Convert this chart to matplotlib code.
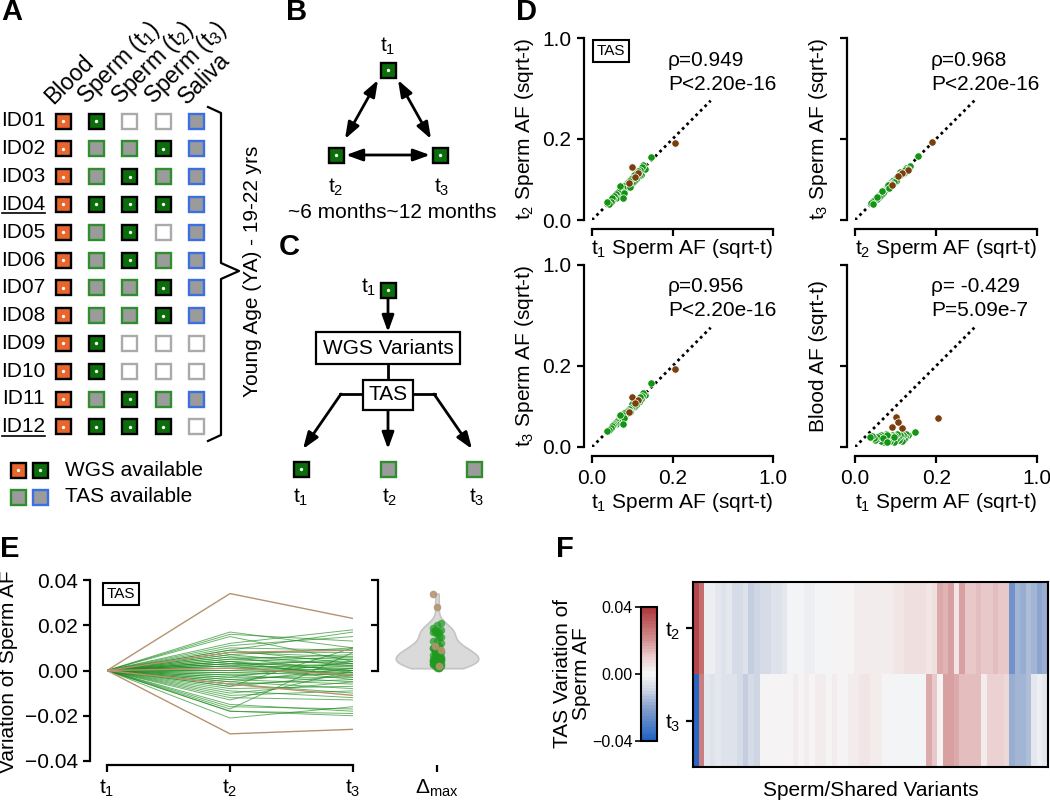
import numpy as np
import matplotlib
matplotlib.use('Agg')
import matplotlib.pyplot as plt
from matplotlib.patches import Rectangle
from matplotlib.colors import LinearSegmentedColormap

plt.rcParams['font.family'] = 'Liberation Sans'
plt.rcParams['mathtext.fontset'] = 'custom'
plt.rcParams['mathtext.rm'] = 'Liberation Sans'
plt.rcParams['mathtext.it'] = 'Liberation Sans:italic'
plt.rcParams['mathtext.bf'] = 'Liberation Sans:bold'

W, H = 1050, 801
FS = 15

# ---------------- A: sample availability ----------------
sample_ids = ['ID01', 'ID02', 'ID03', 'ID04', 'ID05', 'ID06',
              'ID07', 'ID08', 'ID09', 'ID10', 'ID11', 'ID12']
underlined_ids = ['ID04', 'ID12']
tissues = ['Blood', 'Sperm (t$_1$)', 'Sperm (t$_2$)', 'Sperm (t$_3$)', 'Saliva']
# W = WGS, T = TAS, N = not available (columns follow tissues)
availability = ['WWNNT', 'WTTWT', 'WTWTT', 'WWWWT', 'WTWNT', 'WTWTT',
                'WTTWT', 'WTTWT', 'WWNNN', 'WWNNN', 'WTWTT', 'WWWWN']

# ---------------- D: allele frequencies ----------------
green_t1 = [.108, .085, .080, .075, .072, .070, .068, .065, .062, .060, .058, .055,
            .053, .050, .048, .046, .044, .042, .040, .038, .036, .035, .033, .032,
            .030, .029, .027, .026, .025, .023, .022, .021, .020, .018, .017, .015,
            .014, .012, .011, .031, .045, .024, .030, .009, .007]
green_t2 = [.118, .078, .090, .085, .062, .076, .058, .072, .055, .066, .050, .060,
            .047, .054, .042, .050, .038, .046, .036, .042, .032, .038, .029, .035,
            .027, .031, .024, .028, .022, .026, .019, .023, .018, .020, .015, .017,
            .013, .014, .010, .022, .032, .034, .014, .008, .010]
green_t3 = [.124, .082, .088, .080, .070, .074, .060, .068, .058, .064, .052, .062,
            .049, .056, .045, .047, .041, .044, .039, .040, .034, .036, .031, .034,
            .029, .030, .026, .027, .024, .025, .021, .022, .019, .019, .016, .016,
            .014, .013, .011, .025, .036, .030, .016, .009, .008]
green_blood = [.0070, .0040, .0050, .0030, .0020, .0045, .0010, .0035, .0025, .0040,
               .0015, .0030, .0050, .0020, .0035, .0008, .0030, .0045, .0020, .0035,
               .0010, .0025, .0040, .0015, .0030, .0050, .0022, .0008, .0035, .0018,
               .0030, .0045, .0012, .0028, .0038, .0020, .0032, .0015, .0026, .0040,
               .0030, .0025, .0009, .0034, .0028]
brown_t1 = [.210, .050, .066, .042, .056]
brown_t2 = [.179, .086, .068, .041, .055]
brown_t3 = [.182, .075, .066, .037, .058]
brown_blood = [.025, .027, .011, .012, .019]

d_stats = [('ρ=0.949', 'P<2.20e-16'), ('ρ=0.968', 'P<2.20e-16'),
           ('ρ=0.956', 'P<2.20e-16'), ('ρ= -0.429', 'P=5.09e-7')]

# ---------------- E: variation of sperm AF (relative to t1) ----------------
var_t2 = [0.017, 0.016, 0.015, 0.012, 0.011, 0.010, 0.009, 0.008, 0.008, 0.007,
          0.007, 0.006, 0.006, 0.005, 0.005, 0.004, 0.004, 0.004, 0.003, 0.003,
          0.003, 0.002, 0.002, 0.002, 0.001, 0.001, 0.000, 0.000, -0.001, -0.001,
          -0.002, -0.002, -0.003, -0.003, -0.004, -0.004, -0.005, -0.005, -0.006, -0.006,
          -0.007, -0.008, -0.009, -0.010, -0.011, -0.012, -0.013, -0.015, -0.016, -0.017,
          -0.018, -0.018, -0.021, 0.009, -0.007]
var_t3 = [0.010, 0.013, 0.004, 0.018, 0.015, 0.009, 0.017, 0.006, 0.008, 0.002,
          0.010, 0.005, -0.001, 0.007, 0.003, 0.000, 0.006, -0.003, 0.002, 0.004,
          -0.002, 0.001, 0.005, -0.004, 0.000, 0.003, -0.001, 0.002, -0.002, 0.001,
          -0.005, 0.000, -0.003, 0.004, -0.006, -0.001, -0.008, 0.001, -0.004, -0.010,
          -0.002, -0.007, -0.012, -0.005, -0.009, -0.013, 0.000, -0.018, -0.017, 0.008,
          -0.019, -0.020, -0.016, 0.003, 0.010]
brown_var_t2 = [0.034, -0.028, 0.008, -0.006, 0.001]
brown_var_t3 = [0.023, -0.026, 0.009, -0.011, -0.002]

# ---------------- F: heatmap of variation ----------------
heat_t2 = [0.036, 0.028, -0.002, -0.003, -0.004, -0.006, -0.005, -0.008, -0.007, -0.006,
           -0.011, -0.010, -0.007, -0.007, -0.006, -0.006, -0.005, -0.001, -0.001, -0.001,
           -0.002, -0.002, -0.001, -0.001, -0.001, 0.000, 0.000, 0.001, 0.001, 0.002,
           0.003, 0.002, 0.003, 0.002, 0.003, 0.003, 0.004, 0.004, 0.005, 0.006,
           0.005, 0.006, 0.004, 0.005, 0.015, 0.014, 0.017, 0.004, 0.018, 0.011,
           0.011, 0.012, 0.011, 0.011, 0.012, 0.011, 0.011, -0.024, -0.016, -0.018,
           -0.014, -0.016, -0.020, -0.018]
heat_t3 = [-0.038, 0.024, -0.005, -0.006, -0.005, -0.006, -0.006, -0.006, -0.007, -0.011,
           -0.008, -0.010, 0.000, 0.001, 0.001, 0.001, 0.001, 0.001, 0.002, 0.001,
           0.002, 0.001, 0.002, 0.002, 0.001, 0.002, 0.001, 0.001, 0.002, 0.003,
           0.004, 0.004, 0.003, 0.003, 0.001, -0.001, -0.001, -0.001, -0.001, -0.001,
           -0.001, -0.001, 0.016, 0.011, 0.001, 0.018, 0.017, 0.016, 0.012, 0.012,
           0.012, 0.013, 0.003, 0.009, 0.009, 0.009, 0.008, -0.018, -0.016, -0.016,
           -0.015, -0.004, -0.003, -0.004]

GREEN_PT = '#139413'
BROWN_PT = '#7b3f0c'
LINE_GREEN = '#1e8c1e'
LINE_BROWN = '#b5936f'

fig = plt.figure(figsize=(10.5, 8.01), dpi=100)


def px_axes(x0, y0, x1, y1):
    ax = fig.add_axes([x0 / W, 1 - y1 / H, (x1 - x0) / W, (y1 - y0) / H])
    ax.set_facecolor('none')
    return ax


canvas = px_axes(0, 0, W, H)
canvas.set_xlim(0, W)
canvas.set_ylim(H, 0)
canvas.axis('off')

BOX_STYLE = {
    'blood_wgs': ('#e8652b', 'black', True),
    'sperm_wgs': ('#0b6e0b', 'black', True),
    'sperm_tas': ('#9b9b9b', '#2f8f2f', False),
    'saliva_tas': ('#9b9b9b', '#3b6fe6', False),
    'none': ('white', '#aaaaaa', False),
}


def box(cx, cy, kind, size=15):
    fc, ec, dot = BOX_STYLE[kind]
    canvas.add_patch(Rectangle((cx - size / 2, cy - size / 2), size, size,
                               facecolor=fc, edgecolor=ec, lw=1.7, zorder=3))
    if dot:
        canvas.plot(cx, cy, 'o', color='white', ms=2.4, mew=0, zorder=4)


def kind_of(col, code):
    if code == 'N':
        return 'none'
    if col == 0:
        return 'blood_wgs'
    if col == 4:
        return 'saliva_tas'
    return 'sperm_wgs' if code == 'W' else 'sperm_tas'


def arrow(p0, p1, both=False, lw=2):
    style = '<|-|>' if both else '-|>'
    canvas.annotate('', xy=p1, xytext=p0,
                    arrowprops=dict(arrowstyle=style + ',head_length=0.55,head_width=0.2',
                                    lw=lw, color='black', shrinkA=0, shrinkB=0,
                                    mutation_scale=18))


def letter(x, y, s):
    canvas.text(x, y, s, fontsize=21, fontweight='bold', ha='center', va='center')


# ---------- panel A ----------
letter(12, 12, 'A')
row_y0, row_dy = 121, 27.8
col_x0, col_dx = 63, 33.4
for j, t in enumerate(tissues):
    canvas.text(col_x0 + j * col_dx - 10, 105, t, rotation=45, rotation_mode='anchor',
                ha='left', va='baseline', fontsize=16.5)
for i, (sid, codes) in enumerate(zip(sample_ids, availability)):
    y = row_y0 + i * row_dy
    canvas.text(45, y, sid, ha='right', va='center', fontsize=FS)
    if sid in underlined_ids:
        canvas.plot([2, 45], [y + 9, y + 9], color='black', lw=1.2)
    for j, c in enumerate(codes):
        box(col_x0 + j * col_dx, y, kind_of(j, c))

canvas.plot([208, 221, 221, 239, 221, 221, 208],
            [107, 113, 263, 271, 279, 435, 441], color='black', lw=1.6)
canvas.text(252, 271, 'Young Age (YA) - 19-22 yrs', rotation=90, ha='center',
            va='center', fontsize=FS)

box(18, 470, 'blood_wgs')
box(40, 470, 'sperm_wgs')
box(18, 497, 'sperm_tas')
box(40, 497, 'saliva_tas')
canvas.text(65, 470, 'WGS available', va='center', fontsize=FS)
canvas.text(65, 497, 'TAS available', va='center', fontsize=FS)

# ---------- panel B ----------
letter(297, 12, 'B')
for x, y in [(388, 70), (336, 155), (440, 155)]:
    box(x, y, 'sperm_wgs')
canvas.text(388, 46, 't$_1$', ha='center', va='center', fontsize=FS)
canvas.text(336, 187, 't$_2$', ha='center', va='center', fontsize=FS)
canvas.text(442, 187, 't$_3$', ha='center', va='center', fontsize=FS)
arrow((378, 80), (345, 139), both=True)
arrow((398, 80), (431, 139), both=True)
arrow((346, 155), (430, 155), both=True)
canvas.text(392, 213, '~6 months~12 months', ha='center', va='center', fontsize=FS)

# ---------- panel C ----------
letter(289, 247, 'C')
box(388, 290, 'sperm_wgs')
canvas.text(376, 287, 't$_1$', ha='right', va='center', fontsize=FS)
arrow((388, 299), (388, 332))
canvas.text(388, 348, 'WGS Variants', ha='center', va='center', fontsize=FS,
            bbox=dict(boxstyle='square,pad=0.3', facecolor='white', edgecolor='black', lw=1.6))
canvas.plot([388, 388], [364, 382], color='black', lw=2)
canvas.text(388, 395, 'TAS', ha='center', va='center', fontsize=FS,
            bbox=dict(boxstyle='square,pad=0.25', facecolor='white', edgecolor='black', lw=1.6),
            zorder=5)
canvas.plot([365, 340], [394, 394], color='black', lw=2)
canvas.plot([411, 435], [394, 394], color='black', lw=2)
arrow((341, 394), (303, 449))
arrow((434, 394), (472, 449))
arrow((388, 409), (388, 449))
box(301, 469, 'sperm_wgs')
box(388, 469, 'sperm_tas')
box(474, 469, 'sperm_tas')
for x, lab in [(301, 't$_1$'), (390, 't$_2$'), (477, 't$_3$')]:
    canvas.text(x, 497, lab, ha='center', va='center', fontsize=FS)

# ---------- panel D ----------
letter(527, 12, 'D')


def fwd(v):
    return np.sqrt(np.clip(v, 0, None))


def inv(v):
    return np.square(v)


d_specs = [
    # rect px, x data, y data, xlabel, ylabel, show x labels, show y labels
    ((592, 38, 773, 220), 't1', 't2', 't$_1$ Sperm AF (sqrt-t)', 't$_2$ Sperm AF (sqrt-t)', False, True),
    ((855, 38, 1037, 220), 't2', 't3', 't$_2$ Sperm AF (sqrt-t)', 't$_3$ Sperm AF (sqrt-t)', False, False),
    ((592, 265, 773, 447), 't1', 't3', 't$_1$ Sperm AF (sqrt-t)', 't$_3$ Sperm AF (sqrt-t)', True, True),
    ((855, 265, 1037, 447), 't1', 'blood', 't$_1$ Sperm AF (sqrt-t)', 'Blood AF (sqrt-t)', True, False),
]
green = {'t1': green_t1, 't2': green_t2, 't3': green_t3, 'blood': green_blood}
brown = {'t1': brown_t1, 't2': brown_t2, 't3': brown_t3, 'blood': brown_blood}

for k, (rect, xk, yk, xl, yl, showx, showy) in enumerate(d_specs):
    ax = px_axes(*rect)
    ax.set_xscale('function', functions=(fwd, inv))
    ax.set_yscale('function', functions=(fwd, inv))
    ax.set_xlim(0, 1)
    ax.set_ylim(0, 1)
    ax.plot([0, 0.43], [0, 0.43], color='black', lw=2, ls=(0, (1, 1.3)), zorder=1)
    ax.scatter(green[xk], green[yk], s=28, color=GREEN_PT, edgecolors='white',
               linewidths=0.5, zorder=3)
    ax.scatter(brown[xk], brown[yk], s=28, color=BROWN_PT, edgecolors='white',
               linewidths=0.5, zorder=4)
    for side in ['top', 'right']:
        ax.spines[side].set_visible(False)
    ax.spines['left'].set_position(('outward', 6))
    ax.spines['bottom'].set_position(('outward', 6.5))
    for side in ['left', 'bottom']:
        ax.spines[side].set_linewidth(1.6)
    ax.set_xticks([0, 0.2, 1.0])
    ax.set_yticks([0, 0.2, 1.0])
    ax.set_xticklabels(['0.0', '0.2', '1.0'] if showx else [])
    ax.set_yticklabels(['0.0', '0.2', '1.0'] if showy else [])
    ax.xaxis.set_minor_locator(matplotlib.ticker.NullLocator())
    ax.yaxis.set_minor_locator(matplotlib.ticker.NullLocator())
    ax.tick_params(width=1.6, length=5, labelsize=FS, pad=4)
    x0, y0, x1, y1 = rect
    xlab_y = y1 + (55 if showx else 28)
    canvas.text((x0 + x1) / 2, xlab_y, xl, ha='center', va='center', fontsize=FS)
    ylab_x = x0 - (67 if showy else 37)
    canvas.text(ylab_x, (y0 + y1) / 2, yl, rotation=90, ha='center', va='center', fontsize=FS)
    r, p = d_stats[k]
    canvas.text(x0 + 76, y0 + 22, r, ha='left', va='center', fontsize=FS)
    canvas.text(x0 + 76, y0 + 46, p, ha='left', va='center', fontsize=FS)
    if k == 0:
        canvas.text(611, 51, 'TAS', ha='center', va='center', fontsize=11,
                    bbox=dict(boxstyle='square,pad=0.25', facecolor='white',
                              edgecolor='black', lw=1.5))

# ---------- panel E ----------
letter(10, 549, 'E')
axE = px_axes(107, 580, 353, 761)
for a, b in zip(var_t2, var_t3):
    axE.plot([0, 1, 2], [0, a, b], color=LINE_GREEN, lw=0.7, alpha=0.65)
for a, b in zip(brown_var_t2, brown_var_t3):
    axE.plot([0, 1, 2], [0, a, b], color=LINE_BROWN, lw=1.0)
axE.set_xlim(0, 2)
axE.set_ylim(-0.04, 0.04)
for side in ['top', 'right']:
    axE.spines[side].set_visible(False)
axE.spines['left'].set_position(('outward', 12))
axE.spines['bottom'].set_position(('outward', 3))
for side in ['left', 'bottom']:
    axE.spines[side].set_linewidth(1.6)
axE.set_xticks([0, 1, 2])
axE.set_xticklabels(['t$_1$', 't$_2$', 't$_3$'])
axE.set_yticks([-0.04, -0.02, 0, 0.02, 0.04])
axE.set_yticklabels(['\u22120.04', '\u22120.02', '0.00', '0.02', '0.04'])
axE.tick_params(width=1.6, length=5, labelsize=FS, pad=4)
canvas.text(121, 594, 'TAS', ha='center', va='center', fontsize=11,
            bbox=dict(boxstyle='square,pad=0.25', facecolor='white', edgecolor='black', lw=1.5))
canvas.text(9, 672, 'Variation of Sperm AF', rotation=90, ha='center', va='center', fontsize=FS)

# violin of max variation
dmax_green = np.maximum(np.abs(var_t2), np.abs(var_t3))
dmax_brown = np.maximum(np.abs(brown_var_t2), np.abs(brown_var_t3))
dmax_all = np.concatenate([dmax_green, dmax_brown])
axV = px_axes(378, 580, 496, 761)
parts = axV.violinplot(dmax_all, positions=[0], widths=1.4, showextrema=False)
for body in parts['bodies']:
    body.set_facecolor('#dadada')
    body.set_edgecolor('#c4c4c4')
    body.set_alpha(1)
    body.set_linewidth(1.2)
jit = [-0.06, 0.0, 0.06, -0.03, 0.03]
axV.scatter([jit[i % 5] for i in range(len(dmax_green))], dmax_green, s=30,
            color='#1f9a1f', alpha=0.7, linewidths=0, zorder=3)
axV.scatter([jit[i % 5] for i in range(len(dmax_brown))], dmax_brown, s=30,
            color=LINE_BROWN, alpha=0.9, linewidths=0, zorder=4)
axV.set_xlim(-1, 1)
axV.set_ylim(-0.04, 0.04)
for side in ['top', 'right', 'bottom']:
    axV.spines[side].set_visible(False)
axV.spines['bottom'].set_position(('outward', 3))
axV.spines['left'].set_bounds(0, 0.04)
axV.spines['left'].set_linewidth(1.6)
axV.set_yticks([0, 0.02, 0.04])
axV.set_yticklabels([])
axV.set_xticks([0])
axV.set_xticklabels([r'$\Delta_{\mathrm{max}}$'])
axV.tick_params(width=1.6, length=5, labelsize=FS, pad=4)

# ---------- panel F ----------
letter(565, 549, 'F')
cmap = LinearSegmentedColormap.from_list(
    'var', [(0.0, '#2062c2'), (0.25, '#8aa3cc'), (0.375, '#ccd4e3'), (0.5, '#f7f7f7'),
            (0.625, '#ebcfcf'), (0.75, '#d49494'), (1.0, '#ae383c')], N=48)
axF = px_axes(693, 582, 1048, 767)
im = axF.imshow(np.array([heat_t2, heat_t3]), aspect='auto', cmap=cmap,
                vmin=-0.04, vmax=0.04, interpolation='nearest')
axF.set_xticks([])
axF.set_yticks([0, 1])
axF.set_yticklabels(['t$_2$', 't$_3$'])
axF.tick_params(width=1.6, length=5, labelsize=FS, pad=4)
for s in axF.spines.values():
    s.set_linewidth(1.5)
canvas.text(871, 790, 'Sperm/Shared Variants', ha='center', va='center', fontsize=FS)

cax = px_axes(641, 607, 657, 741)
cb = fig.colorbar(im, cax=cax)
cb.set_ticks([-0.04, 0, 0.04])
cb.set_ticklabels(['\u22120.04', '0.00', '0.04'])
cax.yaxis.set_ticks_position('left')
cax.tick_params(width=1.2, length=4, labelsize=11.5, pad=2)
cb.outline.set_linewidth(1.5)
canvas.text(572, 674, 'TAS Variation of\nSperm AF', rotation=90, ha='center', va='center',
            fontsize=FS, multialignment='center', linespacing=1.05)

fig.savefig('out.png', dpi=100)
